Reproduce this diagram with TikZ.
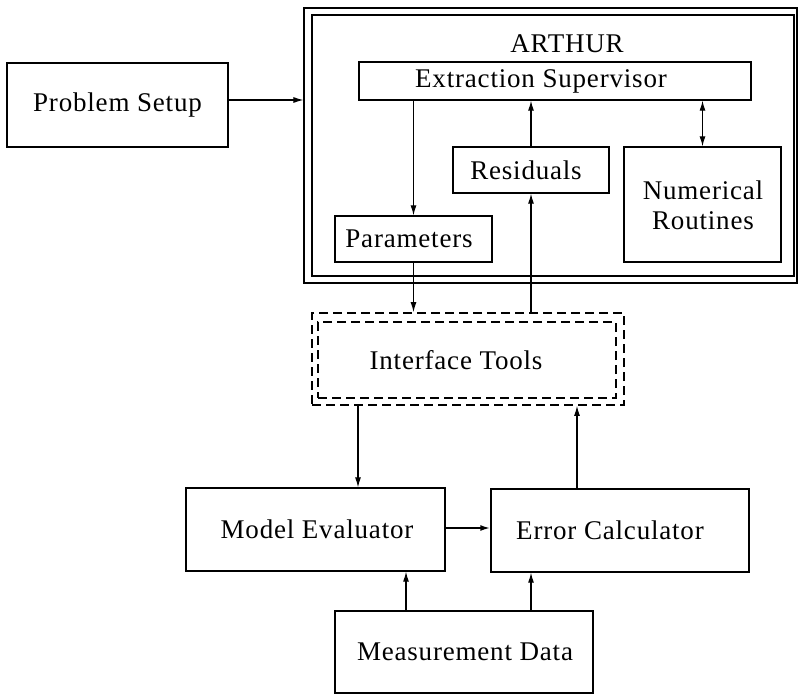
\documentclass[tikz,border=0pt]{standalone}
\usepackage{fontspec}
\setmainfont[LetterSpace=3]{Liberation Serif}
\usetikzlibrary{arrows.meta}

\tikzset{
  blk/.style={draw, line width=1.4pt, minimum width=#1, inner sep=0pt, anchor=center},
  lbl/.style={inner sep=0pt, anchor=center, font=\fontsize{27}{30}\selectfont, align=center},
  dsh/.style={draw, line width=1.8pt, dash pattern=on 9pt off 5pt, inner sep=0pt, anchor=center},
  tip/.tip={Latex[length=10pt,width=6pt]},
  arr/.style={line width=1.1pt, -tip},
  biarr/.style={line width=1.1pt, tip-tip},
}

\begin{document}
\begin{tikzpicture}[x=1pt, y=-1pt]
  \useasboundingbox (0,0) rectangle (798,699);

  % problem setup
  \node[blk=221pt, minimum height=84pt] (ps) at (117.5,105) {};
  \node[lbl] (psT) at (117.5,105) {Problem Setup};

  % ARTHUR double frame
  \node[draw, line width=1.2pt, minimum width=493pt, minimum height=275pt, inner sep=0pt] (ao) at (550.5,145.5) {};
  \node[draw, line width=1.4pt, minimum width=482pt, minimum height=261pt, inner sep=0pt] (ai) at (553,145.5) {};
  \node[lbl] (arthur) at (567,44) {ARTHUR};

  % blocks inside ARTHUR
  \node[blk=392pt, minimum height=38pt] (es) at (555,81) {};
  \node[lbl] (esT) at (541,81) {Extraction Supervisor};
  \node[blk=156pt, minimum height=46pt] (res) at (531,170) {};
  \node[lbl] (resT) at (526,170) {Residuals};
  \node[blk=157pt, minimum height=115pt] (num) at (702.5,204.5) {};
  \node[lbl] (numT) at (703,205) {Numerical\\Routines};
  \node[blk=157pt, minimum height=46pt] (par) at (413.5,239) {};
  \node[lbl] (parT) at (409,239) {Parameters};

  % interface tools (dashed double frame)
  \node[dsh, minimum width=312pt, minimum height=92pt] (ifo) at (468,359) {};
  \node[dsh, minimum width=298pt, minimum height=76pt] (ifi) at (467,360) {};
  \node[lbl] (ifT) at (456,360) {Interface Tools};

  % lower blocks
  \node[blk=259pt, minimum height=83pt] (me) at (315.5,529.5) {};
  \node[lbl] (meT) at (317,529.5) {Model Evaluator};
  \node[blk=258pt, minimum height=83pt] (ec) at (620,530.5) {};
  \node[lbl] (ecT) at (610,530.5) {Error Calculator};
  \node[blk=258pt, minimum height=82pt] (md) at (464,652) {};
  \node[lbl] (mdT) at (465,652) {Measurement Data};

  % connectors
  \draw[arr] ([yshift=5pt]ps.east) -- ([yshift=5pt]ps.east -| ao.west);
  \draw[arr] (par.north |- es.south) -- (par.north);
  \draw[arr] (res.north) -- (res.north |- es.south);
  \draw[biarr] (num.north) -- (num.north |- es.south);
  \draw[arr] (par.south) -- (par.south |- ifo.north);
  \draw[arr] (res.south |- ifo.north) -- (res.south);
  \draw[arr] ([xshift=-110pt]ifo.south) -- ([xshift=-110pt]ifo.south |- me.north);
  \draw[arr] ([xshift=-43pt]ec.north) -- ([xshift=-43pt]ec.north |- ifo.south);
  \draw[arr, line width=1.8pt] ([yshift=1.5pt]me.east) -- ([yshift=1.5pt]me.east -| ec.west);
  \draw[arr] ([xshift=-58pt]md.north) -- ([xshift=-58pt]md.north |- me.south);
  \draw[arr] ([xshift=67pt]md.north) -- ([xshift=67pt]md.north |- ec.south);
\end{tikzpicture}
\end{document}
